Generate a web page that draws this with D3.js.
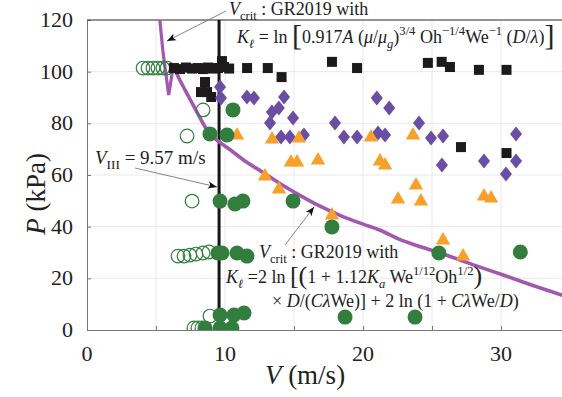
<!DOCTYPE html>
<html><head><meta charset="utf-8">
<script src="https://cdn.jsdelivr.net/npm/d3@7/dist/d3.min.js"></script>
<style>body{margin:0;background:#fff}svg{display:block}</style>
</head><body>
<svg id="c" width="562" height="397"></svg>
<script>
// ---------- data ----------
const xTicks = [0, 10, 20, 30];
const yTicks = [0, 20, 40, 60, 80, 100, 120];
const vIII = 9.57;

// black squares
const sqV = [6.3,6.74,7.17,7.6,8.04,8.4,8.77,9.13,9.49,9.93,10.3,9.78,11.6,13.1,14.1,17.75,19.57,24.7,25.7,26.3,28.4,30.4,27.1,30.4,8.55,8.26,8.7,9.0];
const sqP = [101.4,101.0,101.6,101.2,101.4,101.0,101.6,101.2,101.4,101.8,101.2,104.1,101.4,101.4,97.9,103.8,101.4,103.4,103.8,101.8,100.7,100.7,70.8,68.5,96.0,92.1,92.1,90.2];
// purple diamonds
const diV = [9.64,9.71,11.59,12.1,14.28,13.4,13.9,13.26,14.93,14.06,14.7,15.72,17.97,18.62,19.57,21.0,21.9,21.09,21.6,24.06,24.93,25.8,31.09,25.72,28.77,31.09,30.36];
const diP = [94.1,89.8,90.2,89.8,90.2,84.4,85.9,80.1,82.1,74.7,74.7,75.5,80.1,74.7,74.7,89.8,85.9,76.3,75.5,80.1,74.3,75.1,75.9,63.9,65.4,65.4,60.4];
// orange triangles
const trV = [10.87,13.41,15.36,20.58,23.62,14.78,15.22,16.74,21.23,21.6,12.9,13.91,17.75,22.54,23.84,24.2,28.77,29.28,25.8,27.25];
const trP = [75.9,74.3,74.7,75.1,75.9,65.4,65.4,66.2,65.8,64.3,60.0,55.0,44.9,51.1,56.5,50.3,52.3,51.5,35.2,29.0];
// green filled circles
const gfV = [8.91,10.14,10.58,9.64,10.72,11.3,14.93,17.75,9.49,9.78,10.87,11.59,25.5,31.4,9.64,10.65,11.38,18.7,23.77,8.55,9.64,10.5];
const gfP = [75.9,75.5,85.2,49.9,48.8,49.9,49.9,39.9,29.8,29.8,29.8,28.6,29.8,30.2,5.8,5.8,6.6,5.0,5.0,0.8,0.8,0.8];
// green open circles
const goV = [4.06,4.42,4.78,5.14,5.5,5.8,8.41,7.25,7.61,6.59,7.03,7.46,7.9,8.41,8.84,8.91,7.75,8.04,8.33];
const goP = [101.4,101.4,101.4,101.4,101.4,101.4,85.2,75.1,49.9,28.6,28.6,29.0,29.4,29.8,30.2,5.4,0.8,0.8,0.8];
// V_crit curves (GR2019)
const kinkV = [5.28,5.5,5.72,5.92,6.25];
const kinkP = [120,108,99,91,102];
const critV = [6.25,6.8,7.4,8.0,8.7,9.4,10.4,11.5,12.7,14.0,15.4,16.7,18.5,20.0,21.2,22.7,24.0,25.6,28.0,30.0,32.0,34.6];
const critP = [102,96,90,84,77.4,73.6,69.7,65.2,61.2,56.6,52.2,48.4,44.0,41.0,38.7,35.0,32.5,29.8,25.2,21.6,17.8,13.2];

// ---------- layout ----------
const SERIF = "'Liberation Serif','DejaVu Serif',serif";
const svg = d3.select('#c');
const x = d3.scaleLinear().domain([0, 35]).range([87, 87 + 35 * 13.8]);
const y = d3.scaleLinear().domain([0, 120]).range([330, 20]);

const cp = svg.append('defs');
cp.append('clipPath').attr('id','clip').append('rect').attr('x',87).attr('y',20).attr('width',480).attr('height',310);
cp.append('marker').attr('id','arr').attr('viewBox','0 0 10 10').attr('refX',10).attr('refY',5)
  .attr('markerWidth',9).attr('markerHeight',9).attr('markerUnits','userSpaceOnUse').attr('orient','auto')
  .append('path').attr('d','M0,1 L10,5 L0,9 L2.5,5 Z').attr('fill','#111');

// grid
const grid = svg.append('g').attr('stroke','#e9e9e9').attr('stroke-width',1);
d3.range(5, 36, 5).forEach(v => grid.append('line').attr('x1',x(v)).attr('x2',x(v)).attr('y1',y(0)).attr('y2',y(120)));
d3.range(20, 121, 20).forEach(v => grid.append('line').attr('x1',x(0)).attr('x2',562).attr('y1',y(v)).attr('y2',y(v)));

// axes
const xa = svg.append('g').attr('transform',`translate(0,${y(0)})`)
  .call(d3.axisBottom(x).tickValues(d3.range(0,35,5)).tickSize(-4).tickFormat(''));
const ya = svg.append('g').attr('transform',`translate(${x(0)},0)`)
  .call(d3.axisLeft(y).tickValues(yTicks).tickSize(-4).tickFormat(''));
[xa, ya].forEach(a => { a.selectAll('path,line').attr('stroke','#777').attr('stroke-width',1); });
svg.append('line').attr('x1',x(0)).attr('x2',562).attr('y1',y(120)).attr('y2',y(120)).attr('stroke','#333').attr('stroke-width',1);

// tick labels
svg.append('g').selectAll('text').data(xTicks).join('text')
  .attr('x', d => x(d)).attr('y', 361).attr('text-anchor','middle')
  .attr('font-family',SERIF).attr('font-size',22).attr('fill','#222').text(d => d);
svg.append('g').selectAll('text').data(yTicks).join('text')
  .attr('x', 73).attr('y', d => y(d) + 7).attr('text-anchor','end')
  .attr('font-family',SERIF).attr('font-size',22).attr('fill','#222').text(d => d);

// rich text helper
function rich(sel, x0, y0, segs, fs, anchor) {
  const t = sel.append('text').attr('x',x0).attr('y',y0).attr('font-size',fs)
    .attr('font-family',SERIF).attr('fill','#222');
  if (anchor) t.attr('text-anchor',anchor);
  let cur = 0;
  segs.forEach(s => {
    const off = s.sub ? fs*0.28 : s.sup ? -fs*0.42 : (s.off || 0);
    const ts = t.append('tspan').text(s.t).attr('dy', off - cur);
    cur = off;
    if (s.i) ts.attr('font-style','italic');
    if (s.sub || s.sup) ts.attr('font-size', fs*0.7);
    if (s.fs) ts.attr('font-size', s.fs);
  });
  return t;
}
// axis titles
rich(svg, 305, 384, [{t:'V',i:1},{t:' (m/s)'}], 27, 'middle');
rich(svg.append('g').attr('transform','translate(45,194) rotate(-90)'), 0, 0, [{t:'P',i:1},{t:' (kPa)'}], 27, 'middle');

// vertical V_III line
svg.append('line').attr('x1',x(vIII)).attr('x2',x(vIII)).attr('y1',y(0)).attr('y2',y(120))
  .attr('stroke','#151515').attr('stroke-width',3);

// V_crit curves
const plot = svg.append('g').attr('clip-path','url(#clip)');
const ln = d3.line().x(d => x(d[0])).y(d => y(d[1]));
plot.append('path').datum(kinkV.map((v,i)=>[v,kinkP[i]])).attr('d', ln)
  .attr('fill','none').attr('stroke','#a358b0').attr('stroke-width',3.2);
plot.append('path').datum(critV.map((v,i)=>[v,critP[i]])).attr('d', ln.curve(d3.curveMonotoneX))
  .attr('fill','none').attr('stroke','#a358b0').attr('stroke-width',3.6);

// markers
const green = '#327e3e';
plot.append('g').selectAll('circle').data(goV.map((v,i)=>[v,goP[i]])).join('circle')
  .attr('cx', d => x(d[0])).attr('cy', d => y(d[1])).attr('r', 6.8)
  .attr('fill','#fff').attr('fill-opacity',0).attr('stroke',green).attr('stroke-width',1.2);
plot.append('g').selectAll('rect').data(sqV.map((v,i)=>[v,sqP[i]])).join('rect')
  .attr('x', d => x(d[0]) - 5).attr('y', d => y(d[1]) - 5).attr('width',10).attr('height',10)
  .attr('fill','#1c1a1b');
plot.append('g').selectAll('path').data(diV.map((v,i)=>[v,diP[i]])).join('path')
  .attr('transform', d => `translate(${x(d[0])},${y(d[1])})`)
  .attr('d','M0,-7.5 L6,0 L0,7.5 L-6,0 Z').attr('fill','#6a4ea3');
plot.append('g').selectAll('path').data(trV.map((v,i)=>[v,trP[i]])).join('path')
  .attr('transform', d => `translate(${x(d[0])},${y(d[1])})`)
  .attr('d','M0,-7 L7.2,5.5 L-7.2,5.5 Z').attr('fill','#f7a02b');
plot.append('g').selectAll('circle').data(gfV.map((v,i)=>[v,gfP[i]])).join('circle')
  .attr('cx', d => x(d[0])).attr('cy', d => y(d[1])).attr('r', 7.5).attr('fill',green);

// annotations
const ann = svg.append('g');
const arrow = (x1,y1,x2,y2) => ann.append('line').attr('x1',x1).attr('y1',y1).attr('x2',x2).attr('y2',y2)
  .attr('stroke','#777').attr('stroke-width',0.9).attr('marker-end','url(#arr)');
arrow(226, 11, 167, 41);
arrow(135, 168, 217, 187);
arrow(285, 245, 314, 207);

const FS = 18;
rich(ann, 229, 15, [{t:'V',i:1},{t:'crit',sub:1},{t:' : GR2019 with'}], FS);
rich(ann, 237, 43, [{t:'K',i:1},{t:'ℓ',sub:1,i:1},{t:' = ln '},{t:'[',fs:30,off:2},{t:'0.917'},{t:'A',i:1},{t:' ('},{t:'μ',i:1},{t:'/'},{t:'μ',i:1},{t:'g',sub:1,i:1},{t:')'},{t:'3/4',sup:1},{t:' Oh'},{t:'−1/4',sup:1},{t:'We'},{t:'−1',sup:1},{t:' ('},{t:'D',i:1},{t:'/'},{t:'λ',i:1},{t:')'},{t:']',fs:30,off:2}], FS);
rich(ann, 95, 164, [{t:'V',i:1},{t:'III',sub:1},{t:' = 9.57 m/s'}], 19);
rich(ann, 259, 258, [{t:'V',i:1},{t:'crit',sub:1},{t:' : GR2019 with'}], FS);
rich(ann, 226, 283, [{t:'K',i:1},{t:'ℓ',sub:1,i:1},{t:' =2 ln '},{t:'[',fs:26,off:1},{t:'(',fs:26,off:1},{t:'1 + 1.12',off:0},{t:'K',i:1},{t:'a',sub:1,i:1},{t:' We'},{t:'1/12',sup:1},{t:'Oh'},{t:'1/2',sup:1},{t:')',fs:26,off:1}], FS);
rich(ann, 272, 307, [{t:'× '},{t:'D',i:1},{t:'/('},{t:'C',i:1},{t:'λ',i:1},{t:'We)] + 2 ln (1 + '},{t:'C',i:1},{t:'λ',i:1},{t:'We/'},{t:'D',i:1},{t:')'}], FS);
</script>
</body></html>
